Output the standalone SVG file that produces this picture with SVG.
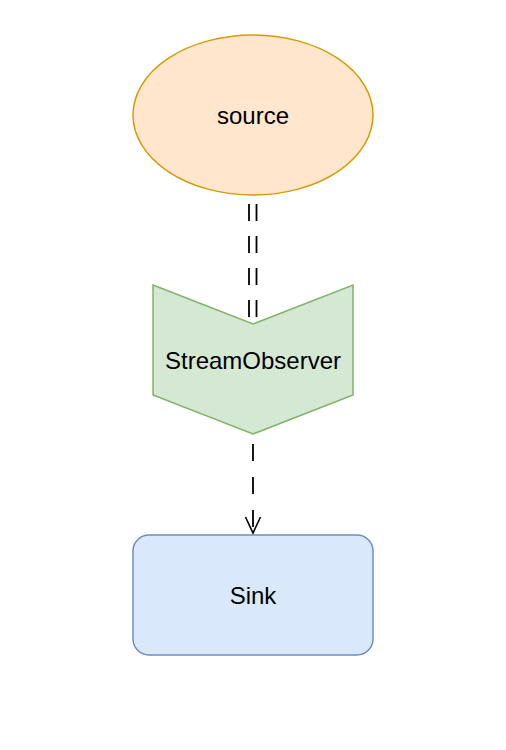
<svg xmlns="http://www.w3.org/2000/svg" width="506" height="750" viewBox="0 0 506 750">
<style>
text{font-family:"Liberation Sans",Arial,sans-serif;font-size:24px;fill:#000;text-anchor:middle;dominant-baseline:central}
.edge{fill:none;stroke:#000;stroke-width:1.8;stroke-dasharray:17 15}
</style>
<rect width="506" height="750" fill="#fff"/>
<g id="connectors">
<line class="edge" x1="249" y1="204" x2="249" y2="318"/>
<line class="edge" x1="256.5" y1="204" x2="256.5" y2="318"/>
<path class="edge" d="M253,444 L253,533" style="stroke-dasharray:17 16"/>
<path d="M245.5,517 L253,533 L260.5,517" fill="none" stroke="#000" stroke-width="1.6"/>
</g>
<g id="source">
<ellipse cx="253" cy="115" rx="120" ry="80" fill="#ffe6cc" stroke="#d79b00" stroke-width="1.5"/>
<text x="253" y="115">source</text>
</g>
<g id="streamobserver">
<polygon points="153,285 253,324 353,285 353,395 253,434 153,395" fill="#d5e8d4" stroke="#82b366" stroke-width="1.5"/>
<text x="253" y="360">StreamObserver</text>
</g>
<g id="sink">
<rect x="133" y="535" width="240" height="120" rx="16" fill="#dae8fc" stroke="#6c8ebf" stroke-width="1.5"/>
<text x="253" y="595">Sink</text>
</g>
</svg>
